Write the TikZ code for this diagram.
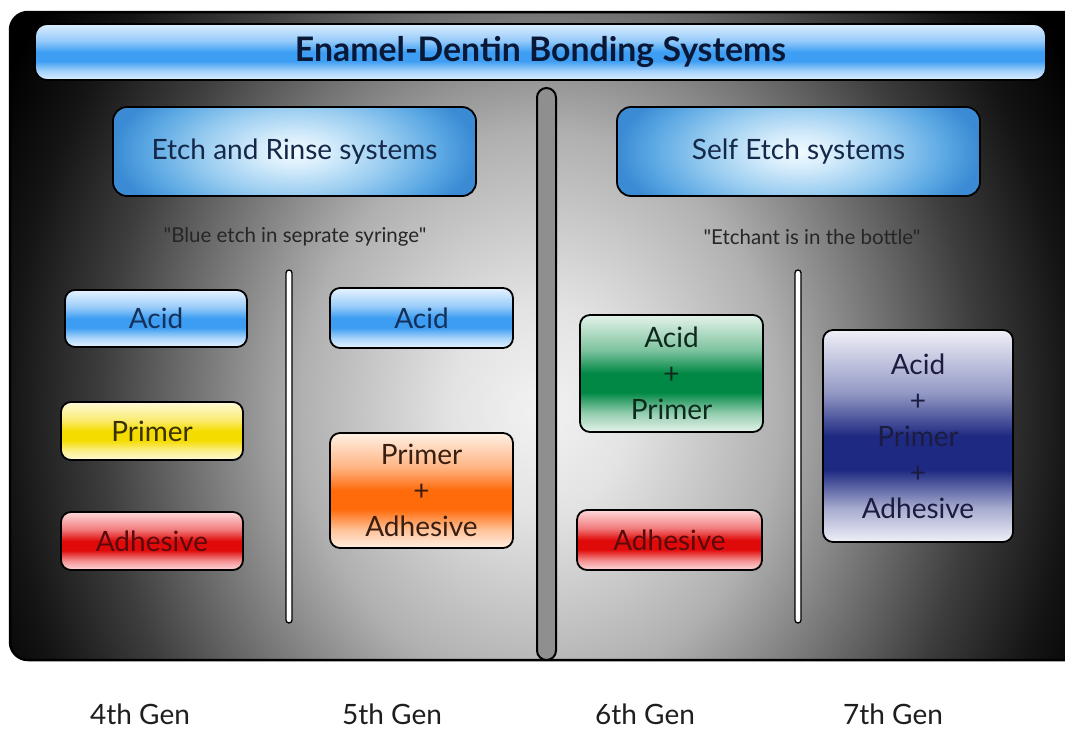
\documentclass[tikz,border=0pt]{standalone}
\usepackage{fontspec}
\setmainfont{Lato}
% a copy of the face that keeps straight double quotes
\newfontfamily\plainquotes{Lato}[Ligatures=TeXOff]

% text colours
\definecolor{titletext}{HTML}{0A1838}
\definecolor{hdrtext}{HTML}{14284A}
\definecolor{quotetext}{HTML}{262626}
\definecolor{gentext}{HTML}{1E1E1E}
\definecolor{bluetext}{HTML}{15305A}
\definecolor{yellowtext}{HTML}{3A3000}
\definecolor{redtext}{HTML}{5A0A0A}
\definecolor{orangetext}{HTML}{3A1E10}
\definecolor{greentext}{HTML}{0E2A1C}
\definecolor{navytext}{HTML}{1C1C40}

% glossy fills: edge colour and band colour
\definecolor{ttlE}{HTML}{DDEEFF}
\definecolor{ttlM}{HTML}{3D9EF3}
\definecolor{blueE}{HTML}{E6F3FF}
\definecolor{blueM}{HTML}{3C9DF2}
\definecolor{yellowE}{HTML}{FFF9D6}
\definecolor{yellowM}{HTML}{F5DC00}
\definecolor{redE}{HTML}{FFD9DB}
\definecolor{redM}{HTML}{E00A0A}
\definecolor{orangeE}{HTML}{FFF0E4}
\definecolor{orangeM}{HTML}{FF6A0A}
\definecolor{greenE}{HTML}{E4F3EA}
\definecolor{greenM}{HTML}{008844}
\definecolor{navyE}{HTML}{F0F0F8}
\definecolor{navyM}{HTML}{1E2A82}

% header box radial fill
\definecolor{hdrA}{HTML}{F2FAFF}
\definecolor{hdrB}{HTML}{D5ECFB}
\definecolor{hdrC}{HTML}{98CCF0}
\definecolor{hdrD}{HTML}{5DA9E4}
\definecolor{hdrE}{HTML}{3A8BD4}

\colorlet{ge}{white}
\colorlet{gm}{blue}

\pgfdeclareradialshading{panelshade}{\pgfpointorigin}{color(0bp)=(black!5); color(4bp)=(black!11); color(10.7bp)=(black!31); color(19.6bp)=(black!76); color(23.7bp)=(black!92); color(27bp)=(black); color(50bp)=(black)}
\pgfdeclareradialshading{hdrshade}{\pgfpointorigin}{color(0bp)=(hdrA); color(5bp)=(hdrB); color(13bp)=(hdrC); color(20bp)=(hdrD); color(25bp)=(hdrE); color(50bp)=(hdrE)}
\pgfdeclareverticalshading[ge,gm]{glossy}{100bp}{color(0bp)=(ge); color(25bp)=(ge); color(33bp)=(gm!35!ge); color(42bp)=(gm); color(50bp)=(gm); color(60bp)=(gm!45!ge); color(75bp)=(ge); color(100bp)=(ge)}

\newcommand\ttlfnt{\fontsize{33.8}{38}\selectfont\bfseries}
\newcommand\hdrfnt{\fontsize{28}{32}\selectfont}
\newcommand\boxfnt{\fontsize{28}{36}\selectfont}
\newcommand\qtfnt{\plainquotes\fontsize{20.5}{24}\selectfont}
\newcommand\genfnt{\fontsize{28}{32}\selectfont}

\tikzset{
  gloss/.style n args={3}{/utils/exec={\colorlet{ge}{#1}\colorlet{gm}{#2}}, shade, shading=glossy, text=#3},
  box/.style={draw=black, line width=1.8pt, rounded corners=10pt, inner sep=0pt, align=center, font=\boxfnt},
  hdrbox/.style={draw=black, line width=1.8pt, rounded corners=14pt, inner sep=0pt,
    minimum width=363pt, minimum height=89pt, font=\hdrfnt, text=hdrtext,
    path picture={\shade[shading=hdrshade] ([yshift=-40pt]path picture bounding box.south west) rectangle ([yshift=40pt]path picture bounding box.north east);}},
  quote/.style={font=\qtfnt, text=quotetext, inner sep=0pt},
  genlabel/.style={font=\genfnt, text=gentext, inner sep=0pt, anchor=base},
  thinbar/.style={draw=black, fill=white, line width=1.3pt, rounded corners=3pt, minimum width=6pt, inner sep=0pt},
  mainbar/.style={draw=black, fill=black!44, line width=2pt, rounded corners=9.5pt, minimum width=19pt, inner sep=0pt},
}

\begin{document}
\begin{tikzpicture}[x=1pt, y=-1pt]
\useasboundingbox (0,0) rectangle (1065,729);
\fill[white] (0,0) rectangle (1065,729);

% dark panel with soft light in the middle
\begin{scope}
  \clip (0,0) rectangle (1065,729);
  \clip[rounded corners=18pt] (10,12) rectangle (1090,660);
  \shade[shading=panelshade] (-20,-240) rectangle (1100,1060);
\end{scope}
\begin{scope}
  \clip (0,0) rectangle (1065,729);
  \draw[line width=2.5pt, rounded corners=18pt] (10,12) rectangle (1090,660);
\end{scope}

% title bar
\node (title) [box, gloss={ttlE}{ttlM}{titletext}, rounded corners=12pt,
  minimum width=1011pt, minimum height=56pt, font=\ttlfnt] at (540.5,52) {Enamel-Dentin Bonding Systems};

% dividers
\node (mid) [mainbar, minimum height=572pt] at (546.5,374) {};
\node (divL) [thinbar, minimum height=353pt] at (289,446.5) {};
\node (divR) [thinbar, minimum height=353pt] at (798,446.5) {};

% system headers
\node (etchrinse) [hdrbox] at (294.5,151.5) {Etch and Rinse systems};
\node (selfetch) [hdrbox] at (798.5,151.5) {Self Etch systems};
\node (quoteL) [quote] at (295,237) {"Blue etch in seprate syringe"};
\node (quoteR) [quote] at (812,237) {"Etchant is in the bottle"};

% 4th generation
\node (acid4) [box, gloss={blueE}{blueM}{bluetext}, minimum width=182pt, minimum height=57pt] at (156,318.5) {Acid};
\node (primer4) [box, gloss={yellowE}{yellowM}{yellowtext}, minimum width=182pt, minimum height=58pt] at (152,431) {Primer};
\node (adh4) [box, gloss={redE}{redM}{redtext}, minimum width=182pt, minimum height=58pt] at (152,541) {Adhesive};

% 5th generation
\node (acid5) [box, gloss={blueE}{blueM}{bluetext}, minimum width=183pt, minimum height=60pt] at (421.5,318) {Acid};
\node (pa5) [box, gloss={orangeE}{orangeM}{orangetext}, minimum width=183pt, minimum height=115pt] at (421.5,490.5) {Primer\\+\\Adhesive};

% 6th generation
\node (ap6) [box, gloss={greenE}{greenM}{greentext}, minimum width=183pt, minimum height=117pt] at (671.5,373.5) {Acid\\+\\Primer};
\node (adh6) [box, gloss={redE}{redM}{redtext}, minimum width=185pt, minimum height=60pt] at (669.5,540) {Adhesive};

% 7th generation
\node (apa7) [box, gloss={navyE}{navyM}{navytext}, minimum width=190pt, minimum height=212pt] at (918,436) {Acid\\+\\Primer\\+\\Adhesive};

% generation labels
\node (gen4) [genlabel] at (140,724) {4th Gen};
\node (gen5) [genlabel] at (392,724) {5th Gen};
\node (gen6) [genlabel] at (645,724) {6th Gen};
\node (gen7) [genlabel] at (893,724) {7th Gen};
\end{tikzpicture}
\end{document}
